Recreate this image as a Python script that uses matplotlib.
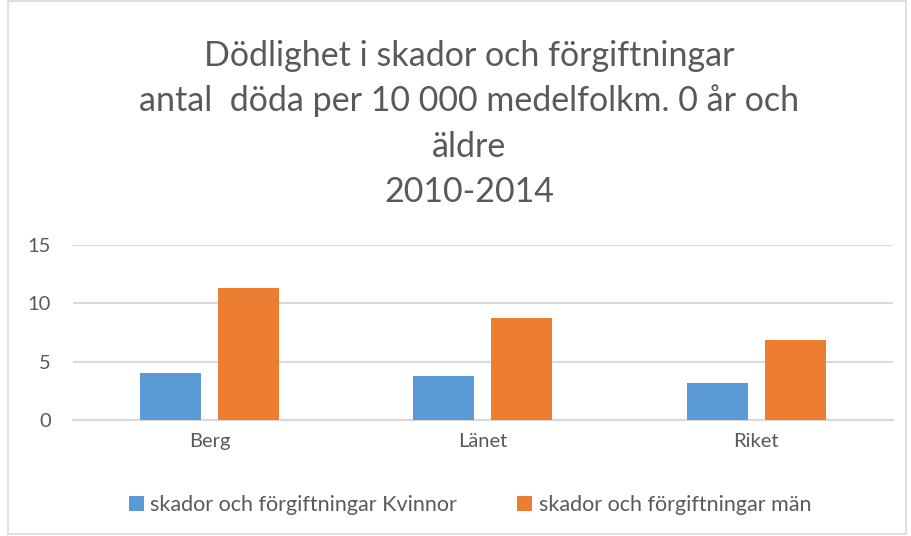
import numpy as np
import matplotlib.pyplot as plt
from matplotlib.patches import Rectangle

categories = ['Berg', 'Länet', 'Riket']
kvinnor = [4.05, 3.75, 3.15]
man = [11.35, 8.75, 6.85]
series_labels = ['skador och förgiftningar Kvinnor', 'skador och förgiftningar män']
title_lines = ['Dödlighet i skador och förgiftningar',
               'antal  döda per 10 000 medelfolkm. 0 år och',
               'äldre',
               '2010-2014']

plt.rcParams['font.family'] = ['Lato', 'DejaVu Sans']

fig = plt.figure(figsize=(9.11, 5.36), dpi=100)
fig.patches.append(Rectangle((0.009, 0.004), 0.985, 0.994, transform=fig.transFigure,
                             fill=False, edgecolor='#d9d9d9', linewidth=1.2))

ax = fig.add_axes([0.080, 0.2164, 0.900, 0.3265])
x = np.arange(len(categories))
w = 0.223
gap = 0.062
ax.bar(x - (w + gap) / 2, kvinnor, w, color='#5b9bd5', label=series_labels[0], zorder=3)
ax.bar(x + (w + gap) / 2, man, w, color='#ed7d31', label=series_labels[1], zorder=3)

ax.set_xlim(-0.5, 2.5)
ax.set_ylim(0, 15)
ax.set_yticks([0, 5, 10, 15])
ax.yaxis.grid(True, color='#d9d9d9', linewidth=1.5, zorder=0)
ax.set_xticks(x)
ax.set_xticklabels(categories)
ax.tick_params(axis='both', length=0, labelsize=14.5, colors='#595959')
ax.tick_params(axis='x', pad=9)
ax.tick_params(axis='y', pad=16)
for s in ['top', 'right', 'left']:
    ax.spines[s].set_visible(False)
ax.spines['bottom'].set_color('#d9d9d9')
ax.spines['bottom'].set_linewidth(1.5)

# title: one text per line, baselines ~45 px apart
for i, line in enumerate(title_lines):
    y = 1 - (66 + 45.3 * i) / 536
    fig.text(0.515, y, line, ha='center', va='baseline', fontsize=24.5,
             color='#595959')

fig.legend(loc='center', bbox_to_anchor=(0.516, 0.058), ncol=2, frameon=False,
           fontsize=15.5, labelcolor='#595959', handlelength=0.7, handleheight=0.7,
           handletextpad=0.3, columnspacing=2.8)

fig.savefig('out.png', dpi=100)
